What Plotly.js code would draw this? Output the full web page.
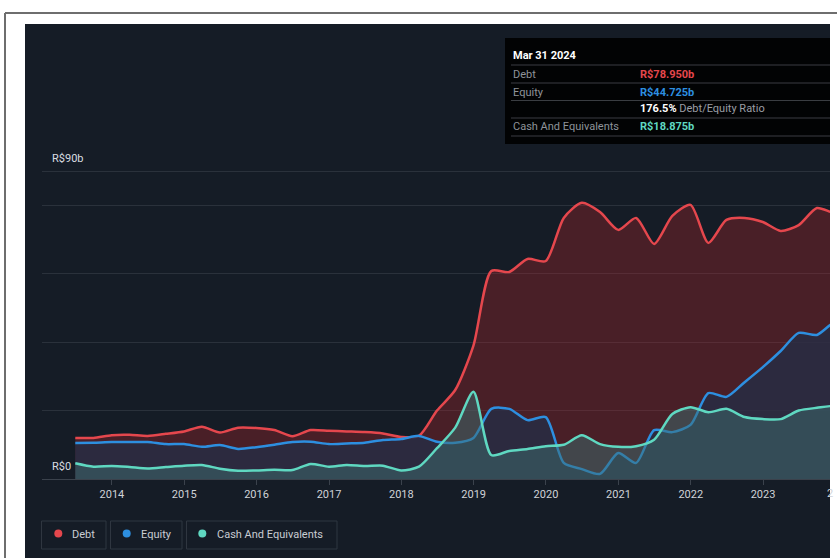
<!DOCTYPE html>
<html>
<head>
<meta charset="utf-8">
<script src="https://cdn.plot.ly/plotly-3.0.1.min.js"></script>
<style>html,body{margin:0;padding:0;background:#fff;}#chart{width:837px;height:558px;}</style>
</head>
<body>
<div id="chart"></div>
<script>
// ---- data (R$ billions, quarter ends) ----
const dates = ['2013-06-30','2013-09-30','2013-12-31','2014-03-31','2014-06-30','2014-09-30','2014-12-31',
 '2015-03-31','2015-06-30','2015-09-30','2015-12-31','2016-03-31','2016-06-30','2016-09-30','2016-12-31',
 '2017-03-31','2017-06-30','2017-09-30','2017-12-31','2018-03-31','2018-06-30','2018-09-30','2018-12-31',
 '2019-03-31','2019-06-30','2019-09-30','2019-12-31','2020-03-31','2020-06-30','2020-09-30','2020-12-31',
 '2021-03-31','2021-06-30','2021-09-30','2021-12-31','2022-03-31','2022-06-30','2022-09-30','2022-12-31',
 '2023-03-31','2023-06-30','2023-09-30','2023-12-31','2024-03-31'];
const debt = [12.0,12.0,12.8,12.9,12.6,13.2,13.9,15.3,13.6,15.0,14.9,14.3,12.5,14.3,14.1,13.9,13.7,13.3,12.3,12.6,
 20.0,26.0,39.0,60.8,60.5,64.3,63.7,76.3,80.7,78.0,72.8,76.3,68.7,76.9,80.1,69.0,75.7,76.3,75.1,72.5,74.2,79.2,77.7,78.95];
const equity = [10.5,10.6,10.8,10.8,10.8,10.2,10.2,9.4,9.9,8.8,9.3,10.0,10.8,10.9,10.2,10.4,10.6,11.4,11.7,12.6,
 10.9,10.6,12.0,20.5,20.5,17.2,18.1,4.7,2.9,1.5,7.6,4.7,14.3,13.7,15.8,25.1,24.0,28.3,32.7,37.4,42.7,42.1,45.9,44.725];
const cash = [4.6,3.6,3.8,3.5,3.1,3.5,3.9,4.1,3.0,2.4,2.5,2.7,2.6,4.4,3.6,4.1,3.8,3.9,2.5,3.6,
 9.0,15.0,25.5,7.0,8.2,8.8,9.6,10.0,12.8,10.2,9.4,9.6,11.5,19.0,21.0,19.5,20.5,18.1,17.5,17.5,20.0,20.8,21.3,18.875];
const yearTicks = ['2014','2015','2016','2017','2018','2019','2020','2021','2022','2023'];
const gridVals = [0,20,40,60,80,90];
const seriesNames = ['Debt','Equity','Cash And Equivalents'];
const tipDate = 'Mar 31 2024';
const tipDebt = 'R$78.950b', tipEquity = 'R$44.725b', tipRatio = '176.5%', tipCash = 'R$18.875b';

// ---- geometry helpers (pixel -> paper) ----
const L = 42, R = 830, T = 150, B = 479;
const px = x => (x - L) / (R - L);
const py = y => (B - y) / (B - T);

const cDebt = '#e5474d', cEq = '#2d8fe0', cCash = '#5fd8c1';
const font = 'Roboto, "Open Sans", sans-serif';

const traces = [
 {x: dates, y: debt, name: seriesNames[0], type: 'scatter', mode: 'lines', fill: 'tozeroy',
  line: {color: cDebt, width: 2.5, shape: 'spline', smoothing: 0.7}, fillcolor: 'rgba(185,38,44,0.32)'},
 {x: dates, y: equity, name: seriesNames[1], type: 'scatter', mode: 'lines', fill: 'tozeroy',
  line: {color: cEq, width: 2.5, shape: 'spline', smoothing: 0.7}, fillcolor: 'rgba(38,45,70,0.8)'},
 {x: dates, y: cash, name: seriesNames[2], type: 'scatter', mode: 'lines', fill: 'tozeroy',
  line: {color: cCash, width: 2.5, shape: 'spline', smoothing: 0.7}, fillcolor: 'rgba(60,110,112,0.5)'}
];

const shapes = [
 // dark panel
 {type: 'rect', xref: 'paper', yref: 'paper', x0: px(25), x1: px(830), y0: py(560), y1: py(24),
  fillcolor: '#151c26', line: {width: 0}, layer: 'below'},
 // outer frame lines
 {type: 'line', xref: 'paper', yref: 'paper', x0: px(5), x1: px(840), y0: py(13), y1: py(13),
  line: {color: '#6e6e6e', width: 2}, layer: 'below'},
 {type: 'line', xref: 'paper', yref: 'paper', x0: px(5), x1: px(5), y0: py(13), y1: py(560),
  line: {color: '#6e6e6e', width: 2}, layer: 'below'},
 // tooltip box
 {type: 'rect', xref: 'paper', yref: 'paper', x0: px(505), x1: px(830), y0: py(144), y1: py(38),
  fillcolor: '#020304', line: {width: 0}, layer: 'above'}
];
[65, 83, 100.5, 118, 136].forEach(y => shapes.push({type: 'line', xref: 'paper', yref: 'paper',
  x0: px(511), x1: px(830), y0: py(y), y1: py(y), line: {color: '#3a3d42', width: 1}, layer: 'above'}));

// legend boxes
const legBoxes = [[41.5, 106], [110.5, 182], [186.5, 337]];
const legCols = [cDebt, cEq, cCash];
const legDots = [58.3, 126.7, 202.3];
const legText = [70, 139, 215];
legBoxes.forEach((b, i) => {
 shapes.push({type: 'rect', xref: 'paper', yref: 'paper', x0: px(b[0]), x1: px(b[1]), y0: py(549), y1: py(521),
  fillcolor: 'rgba(0,0,0,0)', line: {color: '#2f3640', width: 1}, layer: 'above'});
 shapes.push({type: 'circle', xref: 'paper', yref: 'paper', x0: px(legDots[i] - 4), x1: px(legDots[i] + 4),
  y0: py(537.5), y1: py(529.5), fillcolor: legCols[i], line: {width: 0}, layer: 'above'});
});

const ann = [];
const addText = (text, x, y, color, size, extra) => ann.push(Object.assign({text: text, xref: 'paper', yref: 'paper',
  x: px(x), y: py(y), xanchor: 'left', yanchor: 'middle', showarrow: false,
  font: {family: font, size: size || 11, color: color}}, extra || {}));

addText('R$90b', 50, 158, '#d9dce0', 11);
addText('R$0', 50, 466, '#d9dce0', 11);
seriesNames.forEach((n, i) => addText(n, legText[i], 534, '#c9cdd3', 11));
addText('<b>' + tipDate + '</b>', 511, 55, '#ffffff', 11);
addText('Debt', 511, 74, '#8e939a', 11);
addText('<b>' + tipDebt + '</b>', 638, 74, cDebt, 11);
addText('Equity', 511, 92, '#8e939a', 11);
addText('<b>' + tipEquity + '</b>', 638, 92, cEq, 11);
addText('<b>' + tipRatio + '</b> <span style="color:#9a9ea5">Debt/Equity Ratio</span>', 638, 109, '#ffffff', 11);
addText('Cash And Equivalents', 511, 126, '#8e939a', 11);
addText('<b>' + tipCash + '</b>', 638, 126, cCash, 11);
addText('2', 825, 493, '#d0d3d8', 11);

const layout = {
 width: 837, height: 558,
 margin: {l: L, r: 837 - R, t: T, b: 558 - B, pad: 0},
 paper_bgcolor: '#ffffff', plot_bgcolor: 'rgba(0,0,0,0)',
 showlegend: false, hovermode: false, dragmode: false,
 xaxis: {type: 'date', range: ['2013-01-13', '2023-12-05'],
  tickvals: yearTicks.map(y => y + '-01-01'), ticktext: yearTicks,
  ticks: 'outside', ticklen: 5, tickcolor: '#3b424c', tickwidth: 1,
  showgrid: false, zeroline: false, showline: true, linecolor: '#3b424c', linewidth: 1,
  tickfont: {family: font, size: 11, color: '#d0d3d8'}, fixedrange: true},
 yaxis: {range: [0, (B - T) / 3.422], tickvals: gridVals, showticklabels: false,
  showgrid: true, gridcolor: '#2a313b', gridwidth: 1, zeroline: false, showline: false, fixedrange: true},
 shapes: shapes, annotations: ann
};

Plotly.newPlot('chart', traces, layout, {staticPlot: true, displayModeBar: false});
</script>
</body>
</html>
